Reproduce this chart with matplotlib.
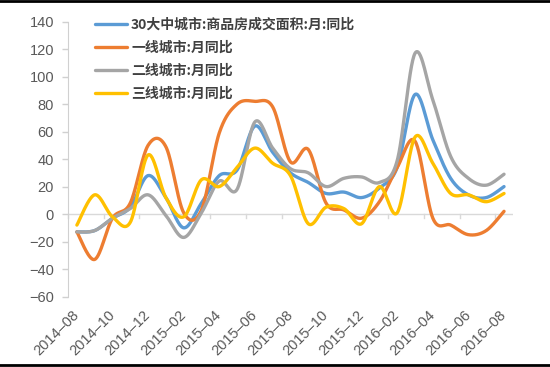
import numpy as np
import matplotlib
matplotlib.use("Agg")
import matplotlib.pyplot as plt
from matplotlib.lines import Line2D

months = ["2014-08", "2014-09", "2014-10", "2014-11", "2014-12", "2015-01", "2015-02",
          "2015-03", "2015-04", "2015-05", "2015-06", "2015-07", "2015-08", "2015-09",
          "2015-10", "2015-11", "2015-12", "2016-01", "2016-02", "2016-03", "2016-04",
          "2016-05", "2016-06", "2016-07", "2016-08"]

series_names = ["30大中城市:商品房成交面积:月:同比", "一线城市:月同比", "二线城市:月同比", "三线城市:月同比"]

city30 = [-13, -12, -3, 5, 28, 12, -10, 8, 28, 32, 64, 45, 30, 23, 15, 16, 12, 19, 34, 87, 54, 26, 14, 12, 20]
tier1 = [-13, -33, -3, 8, 50, 49, 1, 3, 59, 80, 82, 78, 38, 47, 8, 3, -3, 9, 34, 53, -3, -8, -15, -12, 2]
tier2 = [-13, -12, -3, 4, 14, -1, -17, 1, 24, 18, 67, 48, 33, 30, 20, 26, 27, 23, 39, 117, 83, 42, 26, 21, 29]
tier3 = [-8, 14, -2, -6, 43, 12, -2, 25, 20, 34, 48, 37, 28, -7, 5, 4, -7, 20, 1, 56, 37, 15, 14, 9, 15]

colors = ["#5B9BD5", "#ED7D31", "#A5A5A5", "#FFC000"]

yticks = list(range(-60, 141, 20))


def smooth(xs, ys, n=30):
    xs = np.asarray(xs, float)
    ys = np.asarray(ys, float)
    px = np.concatenate([[xs[0]], xs, [xs[-1]]])
    py = np.concatenate([[ys[0]], ys, [ys[-1]]])
    ox, oy = [], []
    t = np.linspace(0, 1, n, endpoint=False)
    for i in range(1, len(px) - 2):
        p0x, p1x, p2x, p3x = px[i - 1], px[i], px[i + 1], px[i + 2]
        p0y, p1y, p2y, p3y = py[i - 1], py[i], py[i + 1], py[i + 2]
        c1x = p1x + (p2x - p0x) / 6
        c1y = p1y + (p2y - p0y) / 6
        c2x = p2x - (p3x - p1x) / 6
        c2y = p2y - (p3y - p1y) / 6
        bx = (1 - t) ** 3 * p1x + 3 * (1 - t) ** 2 * t * c1x + 3 * (1 - t) * t ** 2 * c2x + t ** 3 * p2x
        by = (1 - t) ** 3 * p1y + 3 * (1 - t) ** 2 * t * c1y + 3 * (1 - t) * t ** 2 * c2y + t ** 3 * p2y
        ox.extend(bx)
        oy.extend(by)
    ox.append(xs[-1])
    oy.append(ys[-1])
    return np.array(ox), np.array(oy)


fig = plt.figure(figsize=(5.5, 3.67), dpi=100)
ax = fig.add_axes([0.1236, 0.192, 0.809, 0.749])

x = np.arange(len(months))
# zero line and its small ticks
ax.axhline(0, color="#D9D9D9", lw=1, zorder=1)
for b in np.arange(-0.5, len(months), 2):
    ax.plot([b, b], [0, -2.6], color="#D9D9D9", lw=1, zorder=1, clip_on=False)

handles = []
for vals, col, name in zip([city30, tier1, tier2, tier3], colors, series_names):
    sx, sy = smooth(x, vals)
    h, = ax.plot(sx, sy, color=col, lw=2.4, solid_capstyle="round", label=name, zorder=3)
    handles.append(h)

ax.set_xlim(-0.5, len(months) - 0.5)
ax.set_ylim(-60, 140)
ax.set_yticks(yticks)
ax.set_yticklabels([str(v).replace("-", "\u2212") for v in yticks])
ax.set_xticks(x[::2])
ax.set_xticklabels([m.replace("-", "\u2013") for m in months[::2]])

for s in ["top", "right", "bottom"]:
    ax.spines[s].set_visible(False)
ax.spines["left"].set_color("#D0D0D0")
ax.tick_params(axis="y", colors="#D0D0D0", length=4, width=1, labelcolor="#595959",
               labelsize=10.5, pad=6)
ax.tick_params(axis="x", length=0, labelcolor="#595959", labelsize=10.5, pad=12)
for lab in ax.get_yticklabels():
    lab.set_family("Liberation Sans")
for lab in ax.get_xticklabels():
    lab.set_family("Liberation Sans")
    lab.set_rotation(45)
    lab.set_ha("right")
    lab.set_va("center")
    lab.set_rotation_mode("anchor")

leg = fig.legend(handles=handles, loc="upper left", bbox_to_anchor=(0.1727, 0.952),
                 frameon=False, borderpad=0, borderaxespad=0, handlelength=2.3,
                 handletextpad=0.3, labelspacing=0.65,
                 prop={"family": ["Noto Sans CJK SC", "DejaVu Sans"], "size": 10, "weight": "bold"})
for t in leg.get_texts():
    t.set_color("#404040")

# image frame lines
fig.add_artist(Line2D([0, 1], [0.997, 0.997], transform=fig.transFigure, color="black", lw=2))
fig.add_artist(Line2D([0, 1], [0.005, 0.005], transform=fig.transFigure, color="black", lw=2))

fig.savefig("out.png", dpi=100, facecolor="white")
